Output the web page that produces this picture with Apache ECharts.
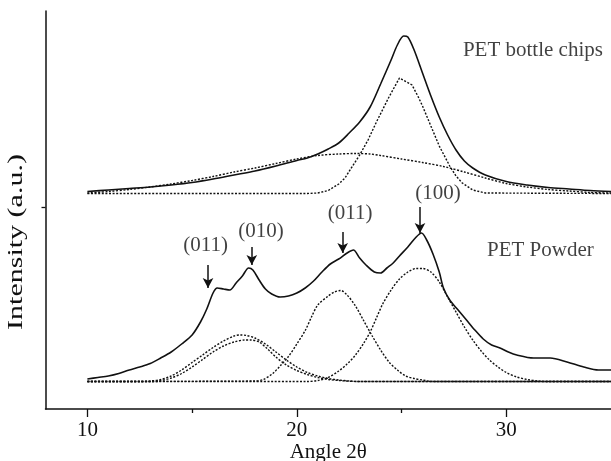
<!DOCTYPE html>
<html>
<head>
<meta charset="utf-8">
<script src="https://cdn.jsdelivr.net/npm/echarts@6/dist/echarts.min.js"></script>
<style>
html,body{margin:0;padding:0;background:#fff;}
#chart{width:611px;height:461px;}
</style>
</head>
<body>
<div id="chart"></div>
<script>
// ---- data (2θ in degrees, intensity in a.u.) ----
const chipsMeasured = [[10,217.5],[11,219],[12,220.5],[13,222],[14,224],[15,226.5],[16,230],[17,234],[18,238],[19,243],[20,248.5],[20.5,251],[21,255],[21.5,260],[22,266],[22.5,276],[23,287],[23.5,302],[24,325],[24.5,349],[24.8,364],[25.1,373],[25.3,372],[25.6,359],[26,336],[26.4,313],[26.8,292],[27.2,274],[27.6,259],[28,248],[28.4,241],[29,234],[30,227.5],[31,224],[32,221.5],[33,220],[34,218.5],[35,217.5]];
const chipsAmorphous = [[10,216],[11,217.5],[12,219.5],[13,222],[14,225],[15,228.5],[16,232.5],[17,237],[18,241],[19,245.5],[20,250],[21,253.5],[22,255],[22.8,255.5],[23.5,255],[24,253.5],[25,250],[26,246.5],[27,242.5],[28,237],[29,231],[30,225.5],[31,222],[32,219.5],[33,218],[34,216.5],[35,216]];
const chipsCrystal = [[10,215.5],[20.5,215.5],[21,216],[21.5,218.5],[22,225],[22.3,231],[22.6,241],[23,254],[23.4,269],[23.8,287],[24.4,312],[24.9,331],[25.5,324],[25.8,312],[26,303],[26.4,283],[26.8,263],[27.3,243],[27.6,233],[27.9,226],[28.4,219],[29,216],[35,215.5]];
const powderMeasured = [[10,30],[10.5,31.5],[11,33],[11.5,35.5],[12,39],[12.5,42],[13,45.5],[13.5,51],[14,57],[14.5,65],[15,74],[15.4,87],[15.7,100],[16,116],[16.2,121],[16.5,120],[16.8,119],[17.1,126],[17.4,133],[17.7,141],[17.9,139],[18.2,129],[18.5,120],[18.8,115],[19.2,112],[19.6,113],[20,116],[20.4,121],[20.8,128],[21.2,137],[21.6,145],[22,150],[22.4,156],[22.7,159],[23,151],[23.3,144],[23.7,137],[24,136],[24.3,141],[24.6,146],[24.9,153],[25.3,162],[25.7,172],[25.95,176],[26.2,169],[26.5,155],[26.8,137],[27,121],[27.3,109],[27.7,99],[28.1,89],[28.5,79],[28.9,70],[29.3,64],[29.7,61],[30.1,57],[30.5,54],[31.3,51],[32.1,51],[32.9,47],[33.7,42],[34.4,39],[35,39]];
const powderPeak1 = [[10,27.5],[12.5,27.5],[13,28],[13.5,29.5],[14,33],[14.5,39],[15,46.5],[15.5,54],[16,61.5],[16.5,68],[17,73],[17.3,74],[17.6,73.5],[18,71],[18.5,65],[19,57],[19.5,49],[20,42],[20.5,36.5],[21,33],[21.5,30.5],[22,29],[22.5,28],[23,27.5],[35,27.5]];
const powderPeak2 = [[10,27.5],[13,27.5],[13.5,28.5],[14,31],[14.5,35.5],[15,42],[15.5,49.5],[16,57],[16.5,63],[17,67],[17.5,69],[17.8,69],[18.2,67],[18.6,60],[19,52],[19.5,44],[20,38.5],[20.5,34.5],[21,31.5],[21.5,29.5],[22,28.5],[23,27.5],[35,27.5]];
const powderPeak3 = [[10,27.5],[18,28],[18.4,29.5],[18.85,35.5],[19.2,43],[19.6,52.5],[20,65],[20.4,78.5],[20.7,92],[21,104],[21.5,113],[21.8,117],[22.1,118.5],[22.4,114],[22.8,103],[23.2,88],[23.6,73],[24,59],[24.4,47],[24.8,39],[25.2,33],[25.6,30.5],[26,29],[26.5,27.5],[35,27.5]];
const powderPeak4 = [[10,27.5],[20.5,27.5],[21,28.5],[21.5,31.5],[22,38],[22.4,45],[22.8,54],[23.2,66],[23.5,77],[23.8,91],[24.1,105],[24.5,119],[24.9,130],[25.3,137],[25.7,140.5],[26,140.5],[26.4,137],[26.8,127],[27.2,112],[27.6,97],[28,82],[28.4,69],[28.8,58],[29.2,49],[29.6,42],[30,36.5],[30.5,32],[31,29.5],[31.5,28],[32,27.5],[35,27.5]];
// peak annotations: label, label position, arrow start, arrow end
const peakNames = ['(011)','(010)','(011)','(100)'];
const peakLabelPos = [[15.64,164],[18.29,178],[22.54,196],[26.74,216]];
const peakArrowFrom = [[15.76,144],[17.85,162],[22.19,177],[25.88,202]];
const peakArrowTo = [[15.76,121],[17.85,144],[22.19,156],[25.88,176]];
const sampleNames = ['PET bottle chips','PET Powder'];
const samplePos = [[27.93,359],[29.08,159]];
// axes
const xMajorTicks = [10,20,30];
const xMinorTicks = [15,25];
const yTicks = [202];

const FONT = '"Liberation Serif","Times New Roman",serif';
const INK = '#111';

function solid(data){
  return {type:'line', data:data, symbol:'none', smooth:0.3, silent:true,
    lineStyle:{color:INK, width:1.6}, z:3};
}
function dotted(data, smooth){
  return {type:'line', data:data, symbol:'none', smooth:smooth, silent:true,
    lineStyle:{color:'#111', width:1.4, type:[2,1.6]}, z:2};
}

const chart = echarts.init(document.getElementById('chart'), null, {renderer:'canvas'});
chart.setOption({
  animation:false,
  backgroundColor:'#fff',
  grid:{left:45.5, right:0, top:11, bottom:52, outerBoundsMode:'none', containLabel:false},
  xAxis:[{
    type:'value', min:8, max:35,
    axisLine:{show:true, onZero:false, lineStyle:{color:INK, width:1.5}},
    axisTick:{show:true, customValues:xMajorTicks, length:8, lineStyle:{color:INK, width:1.3}},
    axisLabel:{show:true, customValues:xMajorTicks, color:INK, fontSize:21, fontFamily:FONT, margin:11},
    splitLine:{show:false},
    name:'Angle 2θ', nameLocation:'middle', nameGap:33, nameMoveOverlap:false,
    nameTextStyle:{color:INK, fontSize:21, fontFamily:FONT}
  },{
    type:'value', min:8, max:35, position:'bottom',
    axisLine:{show:false},
    axisTick:{show:true, customValues:xMinorTicks, length:4, lineStyle:{color:INK, width:1.3}},
    axisLabel:{show:false}, splitLine:{show:false}
  }],
  yAxis:{
    type:'value', min:0, max:398,
    axisLine:{show:true, onZero:false, lineStyle:{color:INK, width:1.5}},
    axisTick:{show:true, customValues:yTicks, length:4, lineStyle:{color:INK, width:1.3}},
    axisLabel:{show:false}, splitLine:{show:false}
  },
  graphic:[{
    type:'text', x:17, y:242, rotation:Math.PI/2, scaleX:1.5,
    style:{text:'Intensity (a.u.)', fill:INK, fontSize:20, fontFamily:FONT, align:'center', verticalAlign:'middle'}
  }],
  series:[
    dotted(chipsAmorphous, 0.3),
    dotted(chipsCrystal, 0),
    solid(chipsMeasured),
    dotted(powderPeak1, 0.3),
    dotted(powderPeak2, 0.3),
    dotted(powderPeak3, 0.3),
    dotted(powderPeak4, 0.3),
    solid(powderMeasured),
    {
      type:'scatter', symbolSize:0, silent:true, z:5,
      data:peakLabelPos.map((p,i)=>({value:p, name:peakNames[i]})),
      label:{show:true, position:'inside', formatter:'{b}', color:INK, fontSize:21, fontFamily:FONT},
      markLine:{
        silent:true, symbol:['none','arrow'], symbolSize:[8,10],
        lineStyle:{color:INK, width:1.5, type:'solid'}, label:{show:false},
        data:peakArrowFrom.map((p,i)=>[{coord:p},{coord:peakArrowTo[i]}])
      }
    },
    {
      type:'scatter', symbolSize:0, silent:true, z:5,
      data:samplePos.map((p,i)=>({value:p, name:sampleNames[i]})),
      label:{show:true, position:'right', distance:0, formatter:'{b}', color:INK, fontSize:21, fontFamily:FONT}
    }
  ]
});
</script>
</body>
</html>
